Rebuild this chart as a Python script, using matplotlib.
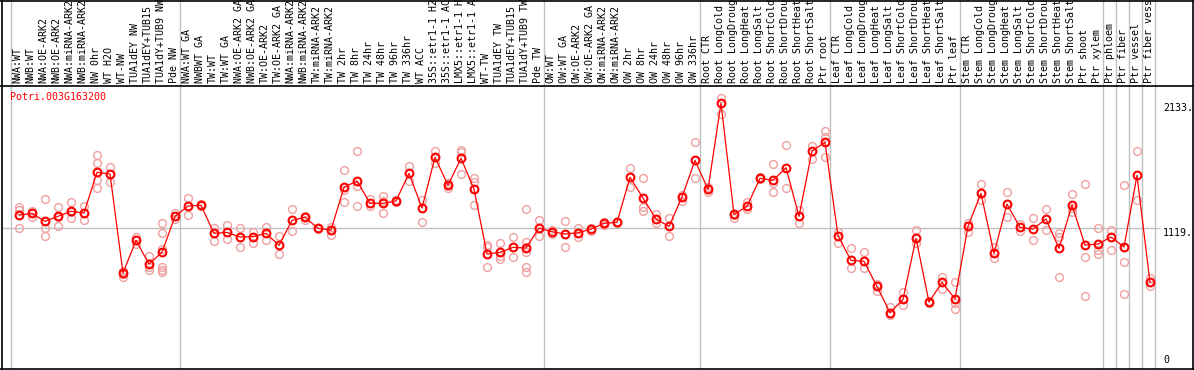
import numpy as np
import matplotlib

matplotlib.use("Agg")
import matplotlib.pyplot as plt
from matplotlib.lines import Line2D
from matplotlib.transforms import blended_transform_factory

gene = "Potri.003G163200"

samples = [
    "NWA:WT", "NWB:WT", "NWA:OE-ARK2", "NWB:OE-ARK2", "NWA:miRNA-ARK2", "NWB:miRNA-ARK2",
    "NW 0hr", "WT H2O", "WT-NW", "TUA1dEY NW", "TUA1dEY+TUB15", "TUA1dY+TUB9 NW", "Pde NW",
    "NWA:WT GA", "NWBWT GA", "TW:WT", "TW:WT GA", "NWA:OE-ARK2 GA", "NWB:OE-ARK2 GA",
    "TW:OE-ARK2", "TW:OE-ARK2 GA", "NWA:miRNA-ARK2", "NWB:miRNA-ARK2", "TW:miRNA-ARK2",
    "TW:miRNA-ARK2", "TW 2hr", "TW 8hr", "TW 24hr", "TW 48hr", "TW 96hr", "TW 336hr",
    "WT ACC", "35S::etr1-1 H2", "35S::etr1-1 AC", "LMX5::etr1-1 H", "LMX5::etr1-1 A",
    "WT-TW", "TUA1dEY TW", "TUA1dEY+TUB15", "TUA1dY+TUB9 TW", "Pde TW",
    "OW:WT", "OW:WT GA", "OW:OE-ARK2", "OW:OE-ARK2 GA", "OW:miRNA-ARK2", "OW:miRNA-ARK2",
    "OW 2hr", "OW 8hr", "OW 24hr", "OW 48hr", "OW 96hr", "OW 336hr",
    "Root CTR", "Root LongCold", "Root LongDroug", "Root LongHeat", "Root LongSalt",
    "Root ShortCold", "Root ShortDrou", "Root ShortHeat", "Root ShortSalt", "Ptr root",
    "Leaf CTR", "Leaf LongCold", "Leaf LongDroug", "Leaf LongHeat", "Leaf LongSalt",
    "Leaf ShortCold", "Leaf ShortDrou", "Leaf ShortHeat", "Leaf ShortSalt", "Ptr leaf",
    "Stem CTR", "Stem LongCold", "Stem LongDroug", "Stem LongHeat", "Stem LongSalt",
    "Stem ShortCold", "Stem ShortDrou", "Stem ShortHeat", "Stem ShortSalt", "Ptr shoot",
    "Ptr xylem", "Ptr phloem", "Ptr fiber", "Ptr vessel", "Ptr fiber vess",
]

means = [
    1222, 1236, 1171, 1212, 1253, 1239, 1571, 1557, 750, 1016, 823, 919, 1212,
    1296, 1302, 1073, 1081, 1043, 1046, 1073, 976, 1179, 1204, 1114, 1100, 1448,
    1500, 1318, 1318, 1337, 1562, 1280, 1693, 1465, 1685, 1434, 905, 919, 959,
    954, 1117,
    1086, 1068, 1078, 1108, 1155, 1163, 1530, 1361, 1190, 1130, 1369, 1668,
    1432, 2133, 1228, 1293, 1522, 1505, 1608, 1212, 1744, 1815,
    1054, 853, 845, 641, 426, 535, 1033, 513, 674, 540,
    1130, 1399, 910, 1312, 1122, 1108, 1190, 951, 1304, 978, 986,
    1043, 962, 1546, 674,
]

replicates = [
    [1290, 1263, 1114], [1258, 1236, 1209], [1350, 1119, 1051], [1288, 1209, 1135],
    [1328, 1249, 1196], [1296, 1236, 1179], [1711, 1644, 1508, 1440], [1611, 1560, 1491],
    [766, 744, 720], [1046, 1016, 984], [891, 796, 774], [1155, 1073, 948, 801, 774, 760],
    [1239, 1190],
    [1361, 1220], [1310, 1295], [1114, 1008], [1141, 1024], [1117, 964], [1082, 992],
    [1127, 1016], [1051, 905], [1271, 1090], [1214, 1182], [1119, 1109], [1127, 1060],
    [1589, 1426, 1326], [1744, 1459, 1293], [1350, 1296], [1377, 1339, 1236], [1345, 1326],
    [1622, 1502], [1345, 1163], [1744, 1649], [1481, 1440], [1752, 1736, 1557],
    [1522, 1491, 1302], [975, 964, 801], [992, 891, 861], [1043, 883],
    [1271, 1005, 964, 923, 801, 760], [1182, 1049],
    [1100, 1065], [1174, 959], [1119, 1046], [1119, 1095], [1165, 1143], [1168, 1158],
    [1603, 1453], [1522, 1290, 1255], [1231, 1155], [1196, 1051], [1383, 1337], [1815, 1527],
    [1453, 1413], [2174, 2046], [1201, 1225], [1331, 1271], [1530, 1515], [1638, 1481, 1408],
    [1793, 1440], [1263, 1155], [1785, 1679], [1905, 1861, 1693],
    [1086, 997], [951, 788], [919, 788], [660, 603], [470, 408], [597, 491], [1098, 992],
    [520, 505], [720, 619], [674, 503, 454],
    [1160, 1086], [1473, 1345], [964, 870], [1408, 1204], [1147, 1092], [1198, 1019],
    [1271, 1100], [1073, 1046, 715], [1391, 1277, 1249], [1473, 878, 562],
    [1114, 937, 905],
    [1100, 937], [1465, 839, 579], [1744, 1342], [711, 644],
]

# index of the last sample in each group (a grey divider follows it)
group_ends = [-1, 12, 40, 52, 62, 72, 83, 84, 85, 86, 87]
ref_value = 1119
max_label = 2133

W, H = 1194, 370
fig = plt.figure(figsize=(W / 100, H / 100), dpi=100)
# plot box in pixels: x 1..1160, y 86..368 (from top)
ax = fig.add_axes([1 / W, 2 / H, 1159 / W, 282 / H])
ax.set_axis_off()

x = np.arange(len(samples))
ax.set_xlim(-1.385, 87.77)
ax.set_ylim(-24, 2274)

mono = "DejaVu Sans Mono"
grey = "#c0c0c0"
pink = "#f0a0a0"

xt = ax.get_xaxis_transform()
ax.vlines(np.array(group_ends) + 0.4, 0, 368 / 282, transform=xt,
          color=grey, lw=1, clip_on=False, zorder=1)
ax.axhline(ref_value, color=grey, lw=1, zorder=1)

for i, reps in enumerate(replicates):
    ax.plot([x[i]] * len(reps), reps, "o", ms=5.6, mfc="none", mec=pink, mew=1.0, zorder=2)
ax.plot(x, means, "-", color="red", lw=0.9, zorder=3)
ax.plot(x, means, "o", ms=5.6, mfc="none", mec="red", mew=1.5, zorder=4)

for i, lab in enumerate(samples):
    ax.text(x[i] - 0.1, 1.0106, lab, transform=xt, rotation=90, ha="center", va="bottom",
            fontsize=7.2, family=mono, clip_on=False)

fig.text(10 / W, 1 - 92 / H, gene, color="red", fontsize=7.2, family=mono, va="top")

yt = blended_transform_factory(ax.transAxes, ax.transData)
ax.text(1.0025, max_label, f"{max_label}.", transform=yt, fontsize=7.2, family=mono,
        va="top", clip_on=False)
ax.text(1.0025, ref_value, f"{ref_value}.", transform=yt, fontsize=7.2, family=mono,
        va="top", clip_on=False)
ax.text(1.0025, 0, "0", transform=yt, fontsize=7.2, family=mono, va="bottom", clip_on=False)

# outer frame and header rule
for (x0, y0, x1, y1) in [(1.5, 0.5, 1.5, 368.5), (0, 368.5, W, 368.5), (0, 85.5, W, 85.5),
                         (0, 0.5, W, 0.5), (W - 1.5, 0, W - 1.5, 369)]:
    fig.add_artist(Line2D([x0 / W, x1 / W], [1 - y0 / H, 1 - y1 / H], color="black", lw=1.2))

fig.savefig("out.png", dpi=100)
